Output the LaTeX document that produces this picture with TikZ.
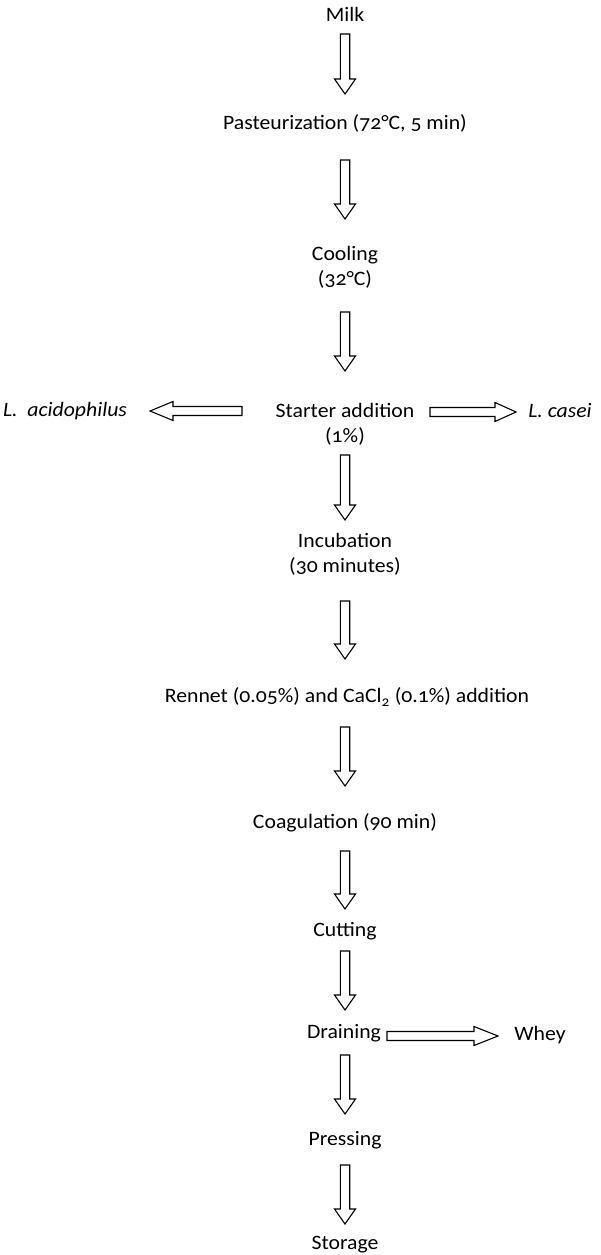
\documentclass[tikz,border=0pt]{standalone}
\usepackage{fontspec}
\setmainfont{Carlito}[Numbers=OldStyle, FakeStretch=1.06]
\newcommand\vblock[3]{% x, top, tip
  \draw[blk] (#1-4.7,#2) -- (#1+4.7,#2) -- (#1+4.7,#3+15) -- (#1+10.5,#3+15) -- (#1,#3)
    -- (#1-10.5,#3+15) -- (#1-4.7,#3+15) -- cycle;}
\newcommand\hblock[4]{% y, tail, headbase, tip
  \draw[blk] (#2,#1+4.5) -- (#3,#1+4.5) -- (#3,#1+9.5) -- (#4,#1) -- (#3,#1-9.5)
    -- (#3,#1-4.5) -- (#2,#1-4.5) -- cycle;}
\begin{document}
\begin{tikzpicture}[x=1pt,y=1pt,
  lbl/.style={inner sep=0pt, align=center, font=\fontsize{20.5}{25}\selectfont},
  blk/.style={draw=black, line width=1.1pt, line join=miter, fill=white}]
\useasboundingbox (0,0) rectangle (601,-1255);
\node[lbl] (milk) at (345,-14) {Milk};
\node[lbl] (past) at (345,-123) {Pasteurization (72°C, 5 min)};
\node[lbl] (cool) at (345,-267) {Cooling\\(32°C)};
\node[lbl] (start) at (345,-424) {Starter addition\\(1\%)};
\node[lbl] (acid) at (65,-411) {\itshape L.\ \ acidophilus};
\node[lbl] (casei) at (560,-411) {\itshape L. casei};
\node[lbl] (inc) at (345,-554) {Incubation\\(30 minutes)};
\node[lbl] (rennet) at (347,-697) {Rennet (0.05\%) and CaCl\textsubscript{2} (0.1\%) addition};
\node[lbl] (coag) at (345,-823) {Coagulation (90 min)};
\node[lbl] (cut) at (345,-931) {Cutting};
\node[lbl] (drain) at (344,-1033) {Draining};
\node[lbl] (whey) at (540,-1035) {Whey};
\node[lbl] (press) at (345,-1140) {Pressing};
\node[lbl] (stor) at (345,-1245) {Storage};
\vblock{345}{-34}{-94}
\vblock{345}{-160}{-219}
\vblock{345}{-312}{-371}
\vblock{345}{-455}{-520}
\vblock{345}{-601}{-659}
\vblock{345}{-727}{-786}
\vblock{345}{-851}{-909}
\vblock{345}{-951}{-1010}
\vblock{345}{-1055}{-1114}
\vblock{345}{-1165}{-1224}
\hblock{-411}{242}{173}{150}
\hblock{-412}{430}{495}{516}
\hblock{-1036}{387}{474}{498}
\end{tikzpicture}
\end{document}
